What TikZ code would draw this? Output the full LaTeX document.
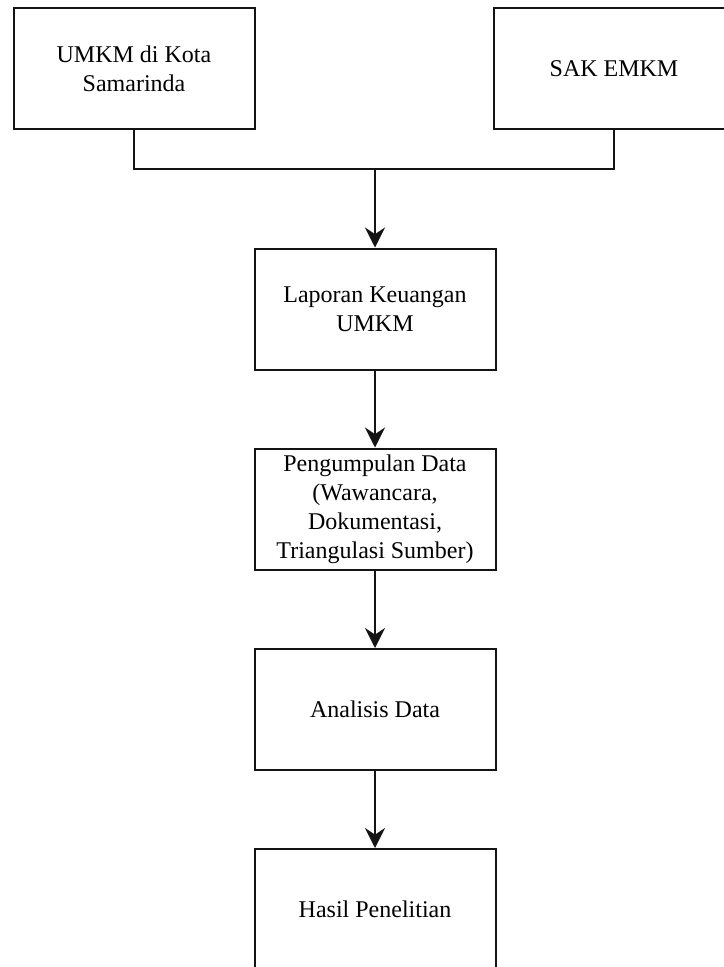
\documentclass[tikz,border=0pt]{standalone}
\usepackage{fontspec}
\setmainfont{Liberation Serif}
\usetikzlibrary{positioning,arrows.meta}
\definecolor{inkblack}{RGB}{20,20,20}

\begin{document}
\begin{tikzpicture}[x=0.75pt,y=-0.75pt,
    boxstep/.style={draw=inkblack,line width=1.5pt,fill=white,
      minimum width=180.75pt,minimum height=90.75pt,
      align=center,inner sep=0pt,
      font=\fontsize{18}{21.75}\selectfont},
    flow/.style={draw=inkblack,line width=1.5pt,
      -{Stealth[length=15pt,width=15pt,inset=5pt]}}]
  \useasboundingbox (0,0) rectangle (724,967);
  \clip (0,0) rectangle (724,967);
  \node[boxstep] (umkm) at (134,68.5) {UMKM di Kota\\Samarinda};
  \node[boxstep] (sak) at (614,68.5) {SAK EMKM};
  \coordinate (merge) at (375,169);
  \node[boxstep] (lapkeu) at (375,309) {Laporan Keuangan\\UMKM};
  \node[boxstep] (kumpul) at (375,509)
    {Pengumpulan Data\\(Wawancara,\\Dokumentasi,\\Triangulasi Sumber)};
  \node[boxstep] (analisis) at (375,709.5) {Analisis Data};
  \node[boxstep] (hasil) at (375,909.5) {Hasil Penelitian};
  \draw[draw=inkblack,line width=1.5pt] (umkm.south) |- (merge) -| (sak.south);
  \draw[flow] (merge) -- (lapkeu);
  \draw[flow] (lapkeu) -- (kumpul);
  \draw[flow] (kumpul) -- (analisis);
  \draw[flow] (analisis) -- (hasil);
\end{tikzpicture}
\end{document}
